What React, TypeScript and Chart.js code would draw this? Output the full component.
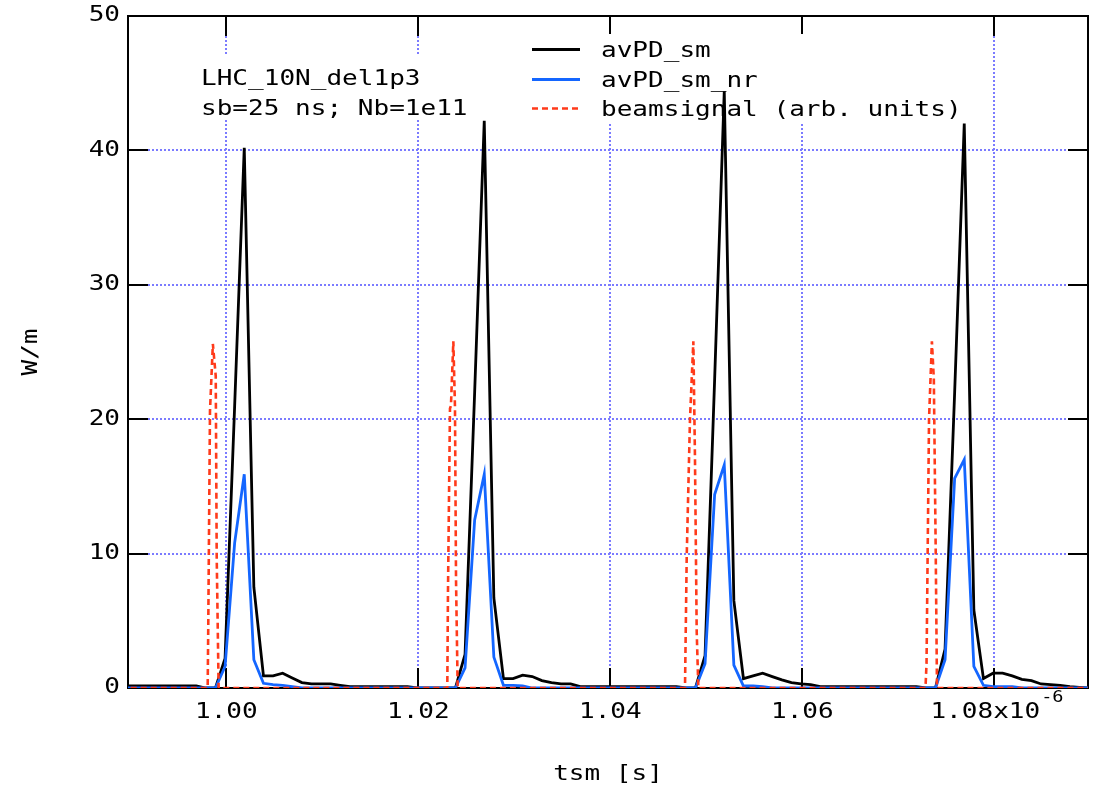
import { useEffect, useRef } from "react";
import { Chart, registerables } from "chart.js";

Chart.register(...registerables);

// ---------------- data ----------------
// avPD series are sampled every 1 ns, first sample at SAMPLE_START_NS (ns)
const SAMPLE_START_NS = 988.87;
const SAMPLE_STEP_NS = 1;

const avPD_sm = [
  0.15, 0.15, 0.15, 0.15, 0.15, 0.15, 0.15, 0.15, 0.15, 0, 0,
  2.2, 21, 40.2, 7.5, 0.9, 0.9, 1.1, 0.75, 0.4, 0.3, 0.3, 0.3, 0.2,
  0.1, 0.1, 0.1, 0.1, 0.1, 0.1, 0.1,
  0, 0, 0, 0, 0,
  2.5, 22, 42.2, 6.7, 0.7, 0.7, 0.95, 0.85, 0.55, 0.4, 0.3, 0.3,
  0.1, 0.1, 0.1, 0.1, 0.1, 0.1, 0.1, 0.1, 0.1, 0.1, 0.1,
  0, 0,
  2.4, 23, 44.4, 6.5, 0.7, 0.9, 1.1, 0.85, 0.6, 0.4, 0.3, 0.25,
  0.1, 0.1, 0.1, 0.1, 0.1, 0.1, 0.1, 0.1, 0.1, 0.1, 0.1,
  0, 0,
  2.9, 22, 42, 5.8, 0.7, 1.1, 1.1, 0.9, 0.65, 0.55, 0.3, 0.25, 0.2, 0.1, 0.05, 0,
];

const avPD_sm_nr = [
  0, 0, 0, 0, 0, 0, 0, 0, 0, 0, 0,
  1.6, 10.8, 15.9, 2.1, 0.35, 0.25, 0.2, 0.1,
  0, 0, 0, 0, 0, 0, 0, 0, 0, 0, 0, 0, 0, 0, 0, 0, 0,
  1.5, 12.5, 15.9, 2.3, 0.2, 0.2, 0.15,
  0, 0, 0, 0, 0, 0, 0, 0, 0, 0, 0, 0, 0, 0, 0, 0, 0, 0,
  1.8, 14.4, 16.6, 1.7, 0.15, 0.15, 0.1,
  0, 0, 0, 0, 0, 0, 0, 0, 0, 0, 0, 0, 0, 0, 0, 0, 0, 0,
  2.1, 15.6, 17.0, 1.6, 0.2, 0.1, 0.1, 0.1,
  0, 0, 0, 0, 0, 0, 0, 0,
];

const beamTimesNs = [
  989, 998.06, 998.12, 998.3, 998.6, 998.9, 999.0, 999.2,
  1023.02, 1023.09, 1023.3, 1023.4, 1023.65, 1023.82, 1023.93, 1024.1,
  1047.78, 1047.96, 1048.3, 1048.65, 1048.82, 1049.0, 1049.17,
  1072.83, 1072.94, 1073.2, 1073.5, 1073.7, 1073.9, 1074.03, 1090,
];
const beamValues = [
  0, 0, 4.6, 20.6, 25.6, 23.2, 9.8, 0,
  0, 7.1, 20.8, 21, 25.8, 20.9, 8.0, 0,
  0, 9.8, 20, 25.8, 17.1, 4.2, 0,
  0, 1.8, 20, 25.8, 23, 10, 0, 0,
];

const SERIES_LABELS = ["avPD_sm", "avPD_sm_nr", "beamsignal (arb. units)"];
const ANNOTATION_LINES = ["LHC_10N_del1p3", "sb=25 ns; Nb=1e11"];
const X_TITLE = "tsm [s]";
const Y_TITLE = "W/m";
const X_EXP_TEXT = "x10";
const X_EXP_SUP = "-6";

const X_MIN_NS = 989.76;
const X_MAX_NS = 1089.76;
const X_TICKS_NS = [1000, 1020, 1040, 1060, 1080];
const Y_MIN = 0;
const Y_MAX = 50;
const Y_TICKS = [0, 10, 20, 30, 40, 50];

// ---------------- style ----------------
const FONT_FAMILY = '"DejaVu Sans Mono", "Liberation Mono", monospace';
const SX = 1.24; // horizontal stretch of the reference lettering
const FS = 21;
const GRID_COLOR = "#7b7bff";
const BLACK = "#000000";
const BLUE = "#1466ff";
const RED = "#ff3a1a";

function drawText(
  ctx: CanvasRenderingContext2D,
  s: string,
  x: number,
  y: number,
  align: CanvasTextAlign,
  size: number,
  baseline: CanvasTextBaseline = "alphabetic",
  rotate = 0
) {
  ctx.save();
  ctx.font = `${size}px ${FONT_FAMILY}`;
  ctx.fillStyle = "#000";
  ctx.textAlign = align;
  ctx.textBaseline = baseline;
  ctx.translate(x, y);
  if (rotate) ctx.rotate(rotate);
  ctx.scale(SX, 1);
  ctx.fillText(s, 0, 0);
  ctx.restore();
}

function textWidth(ctx: CanvasRenderingContext2D, s: string, size: number) {
  ctx.save();
  ctx.font = `${size}px ${FONT_FAMILY}`;
  const w = ctx.measureText(s).width * SX;
  ctx.restore();
  return w;
}

const decorPlugin = {
  id: "decor",
  beforeDatasetsDraw(chart: any) {
    const ctx: CanvasRenderingContext2D = chart.ctx;
    const a = chart.chartArea;
    const xs = chart.scales.x;
    const ys = chart.scales.y;
    ctx.save();
    // dotted grid
    ctx.strokeStyle = GRID_COLOR;
    ctx.lineWidth = 2;
    ctx.setLineDash([2, 2]);
    for (const t of xs.ticks) {
      const px = Math.round(xs.getPixelForValue(t.value));
      ctx.beginPath();
      ctx.moveTo(px, a.top);
      ctx.lineTo(px, a.bottom);
      ctx.stroke();
    }
    for (const t of ys.ticks) {
      if (t.value <= Y_MIN || t.value >= Y_MAX) continue;
      const py = Math.round(ys.getPixelForValue(t.value));
      ctx.beginPath();
      ctx.moveTo(a.left, py);
      ctx.lineTo(a.right, py);
      ctx.stroke();
    }
    ctx.setLineDash([]);
    // inward ticks
    const TL = 20;
    ctx.strokeStyle = "#000";
    ctx.lineWidth = 2;
    for (const t of xs.ticks) {
      const px = Math.round(xs.getPixelForValue(t.value));
      ctx.beginPath();
      ctx.moveTo(px, a.bottom);
      ctx.lineTo(px, a.bottom - TL);
      ctx.moveTo(px, a.top);
      ctx.lineTo(px, a.top + TL);
      ctx.stroke();
    }
    for (const t of ys.ticks) {
      if (t.value <= Y_MIN || t.value >= Y_MAX) continue;
      const py = Math.round(ys.getPixelForValue(t.value));
      ctx.beginPath();
      ctx.moveTo(a.left, py);
      ctx.lineTo(a.left + TL, py);
      ctx.moveTo(a.right, py);
      ctx.lineTo(a.right - TL, py);
      ctx.stroke();
    }
    // white boxes behind annotation and legend
    ctx.fillStyle = "#ffffff";
    ctx.fillRect(a.left + 67, a.top + 39, 283, 65);
    ctx.fillRect(a.left + 397, a.top + 18, 450, 90);
    // frame
    ctx.strokeStyle = "#000";
    ctx.lineWidth = 2;
    ctx.strokeRect(a.left, a.top, a.right - a.left, a.bottom - a.top);
    ctx.restore();
  },
  afterDatasetsDraw(chart: any) {
    const ctx: CanvasRenderingContext2D = chart.ctx;
    const a = chart.chartArea;
    const xs = chart.scales.x;
    const ys = chart.scales.y;

    // legend
    const rows = [a.top + 33.5, a.top + 63.5, a.top + 92.5];
    chart.data.datasets.forEach((ds: any, i: number) => {
      const y = rows[i];
      ctx.save();
      ctx.strokeStyle = ds.borderColor;
      ctx.lineWidth = ds.borderWidth;
      ctx.setLineDash(ds.borderDash || []);
      ctx.beginPath();
      ctx.moveTo(a.left + 404, y);
      ctx.lineTo(a.left + 452, y);
      ctx.stroke();
      ctx.restore();
      drawText(ctx, ds.label, a.left + 473, y + 7.5, "left", FS);
    });

    // annotation
    ANNOTATION_LINES.forEach((s, i) => {
      drawText(ctx, s, a.left + 73, a.top + 69 + i * 30, "left", FS);
    });

    // x tick labels
    const nx = xs.ticks.length;
    xs.ticks.forEach((t: any, i: number) => {
      const px = xs.getPixelForValue(t.value);
      let label = (t.value / 1000).toFixed(2);
      if (i === nx - 1) {
        label += X_EXP_TEXT;
        const cx = px - 9;
        drawText(ctx, label, cx, a.bottom + 30, "center", FS);
        const w = textWidth(ctx, label, FS);
        drawText(ctx, X_EXP_SUP, cx + w / 2 + 1, a.bottom + 14, "left", 15);
      } else {
        drawText(ctx, label, px, a.bottom + 30, "center", FS);
      }
    });

    // y tick labels
    ys.ticks.forEach((t: any) => {
      const py = ys.getPixelForValue(t.value);
      drawText(ctx, String(t.value), a.left - 8, py, "right", FS, "middle");
    });

    // titles
    drawText(ctx, X_TITLE, (a.left + a.right) / 2, a.bottom + 92, "center", FS);
    drawText(ctx, Y_TITLE, 32, (a.top + a.bottom) / 2, "center", FS, "middle", -Math.PI / 2);
  },
};

export default function App() {
  const canvasRef = useRef<HTMLCanvasElement | null>(null);

  useEffect(() => {
    document.body.style.margin = "0";
    const canvas = canvasRef.current;
    if (!canvas) return;

    const avTimes = avPD_sm.map((_, i) => SAMPLE_START_NS + i * SAMPLE_STEP_NS);
    const blackPts = avPD_sm.map((v, i) => ({ x: avTimes[i], y: v }));
    const bluePts = avPD_sm_nr.map((v, i) => ({ x: avTimes[i], y: v }));
    const redPts = beamValues.map((v, i) => ({ x: beamTimesNs[i], y: v }));

    const chart = new Chart(canvas, {
      type: "line",
      data: {
        datasets: [
          {
            label: SERIES_LABELS[0],
            data: blackPts,
            borderColor: BLACK,
            borderWidth: 2.8,
            pointRadius: 0,
            tension: 0,
            fill: false,
            order: 2,
          },
          {
            label: SERIES_LABELS[1],
            data: bluePts,
            borderColor: BLUE,
            borderWidth: 2.8,
            pointRadius: 0,
            tension: 0,
            fill: false,
            order: 1,
          },
          {
            label: SERIES_LABELS[2],
            data: redPts,
            borderColor: RED,
            borderWidth: 2.6,
            borderDash: [6, 4],
            pointRadius: 0,
            tension: 0,
            fill: false,
            order: 0,
          },
        ],
      },
      options: {
        responsive: false,
        animation: false,
        devicePixelRatio: 1,
        layout: { padding: { top: 16, right: 6, left: 0, bottom: 0 } },
        plugins: {
          legend: { display: false },
          tooltip: { enabled: false },
          title: { display: false },
        },
        scales: {
          x: {
            type: "linear",
            min: X_MIN_NS,
            max: X_MAX_NS,
            ticks: { display: false },
            grid: { display: false },
            border: { display: false },
            afterBuildTicks: (s: any) => {
              s.ticks = X_TICKS_NS.map((v) => ({ value: v }));
            },
            afterFit: (s: any) => {
              s.height = 98;
            },
          },
          y: {
            type: "linear",
            min: Y_MIN,
            max: Y_MAX,
            ticks: { display: false },
            grid: { display: false },
            border: { display: false },
            afterBuildTicks: (s: any) => {
              s.ticks = Y_TICKS.map((v) => ({ value: v }));
            },
            afterFit: (s: any) => {
              s.width = 128;
            },
          },
        },
      },
      plugins: [decorPlugin],
    } as any);

    return () => chart.destroy();
  }, []);

  return (
    <div style={{ width: 1094, height: 786, background: "#fff" }}>
      <canvas ref={canvasRef} width={1094} height={786} style={{ display: "block" }} />
    </div>
  );
}
